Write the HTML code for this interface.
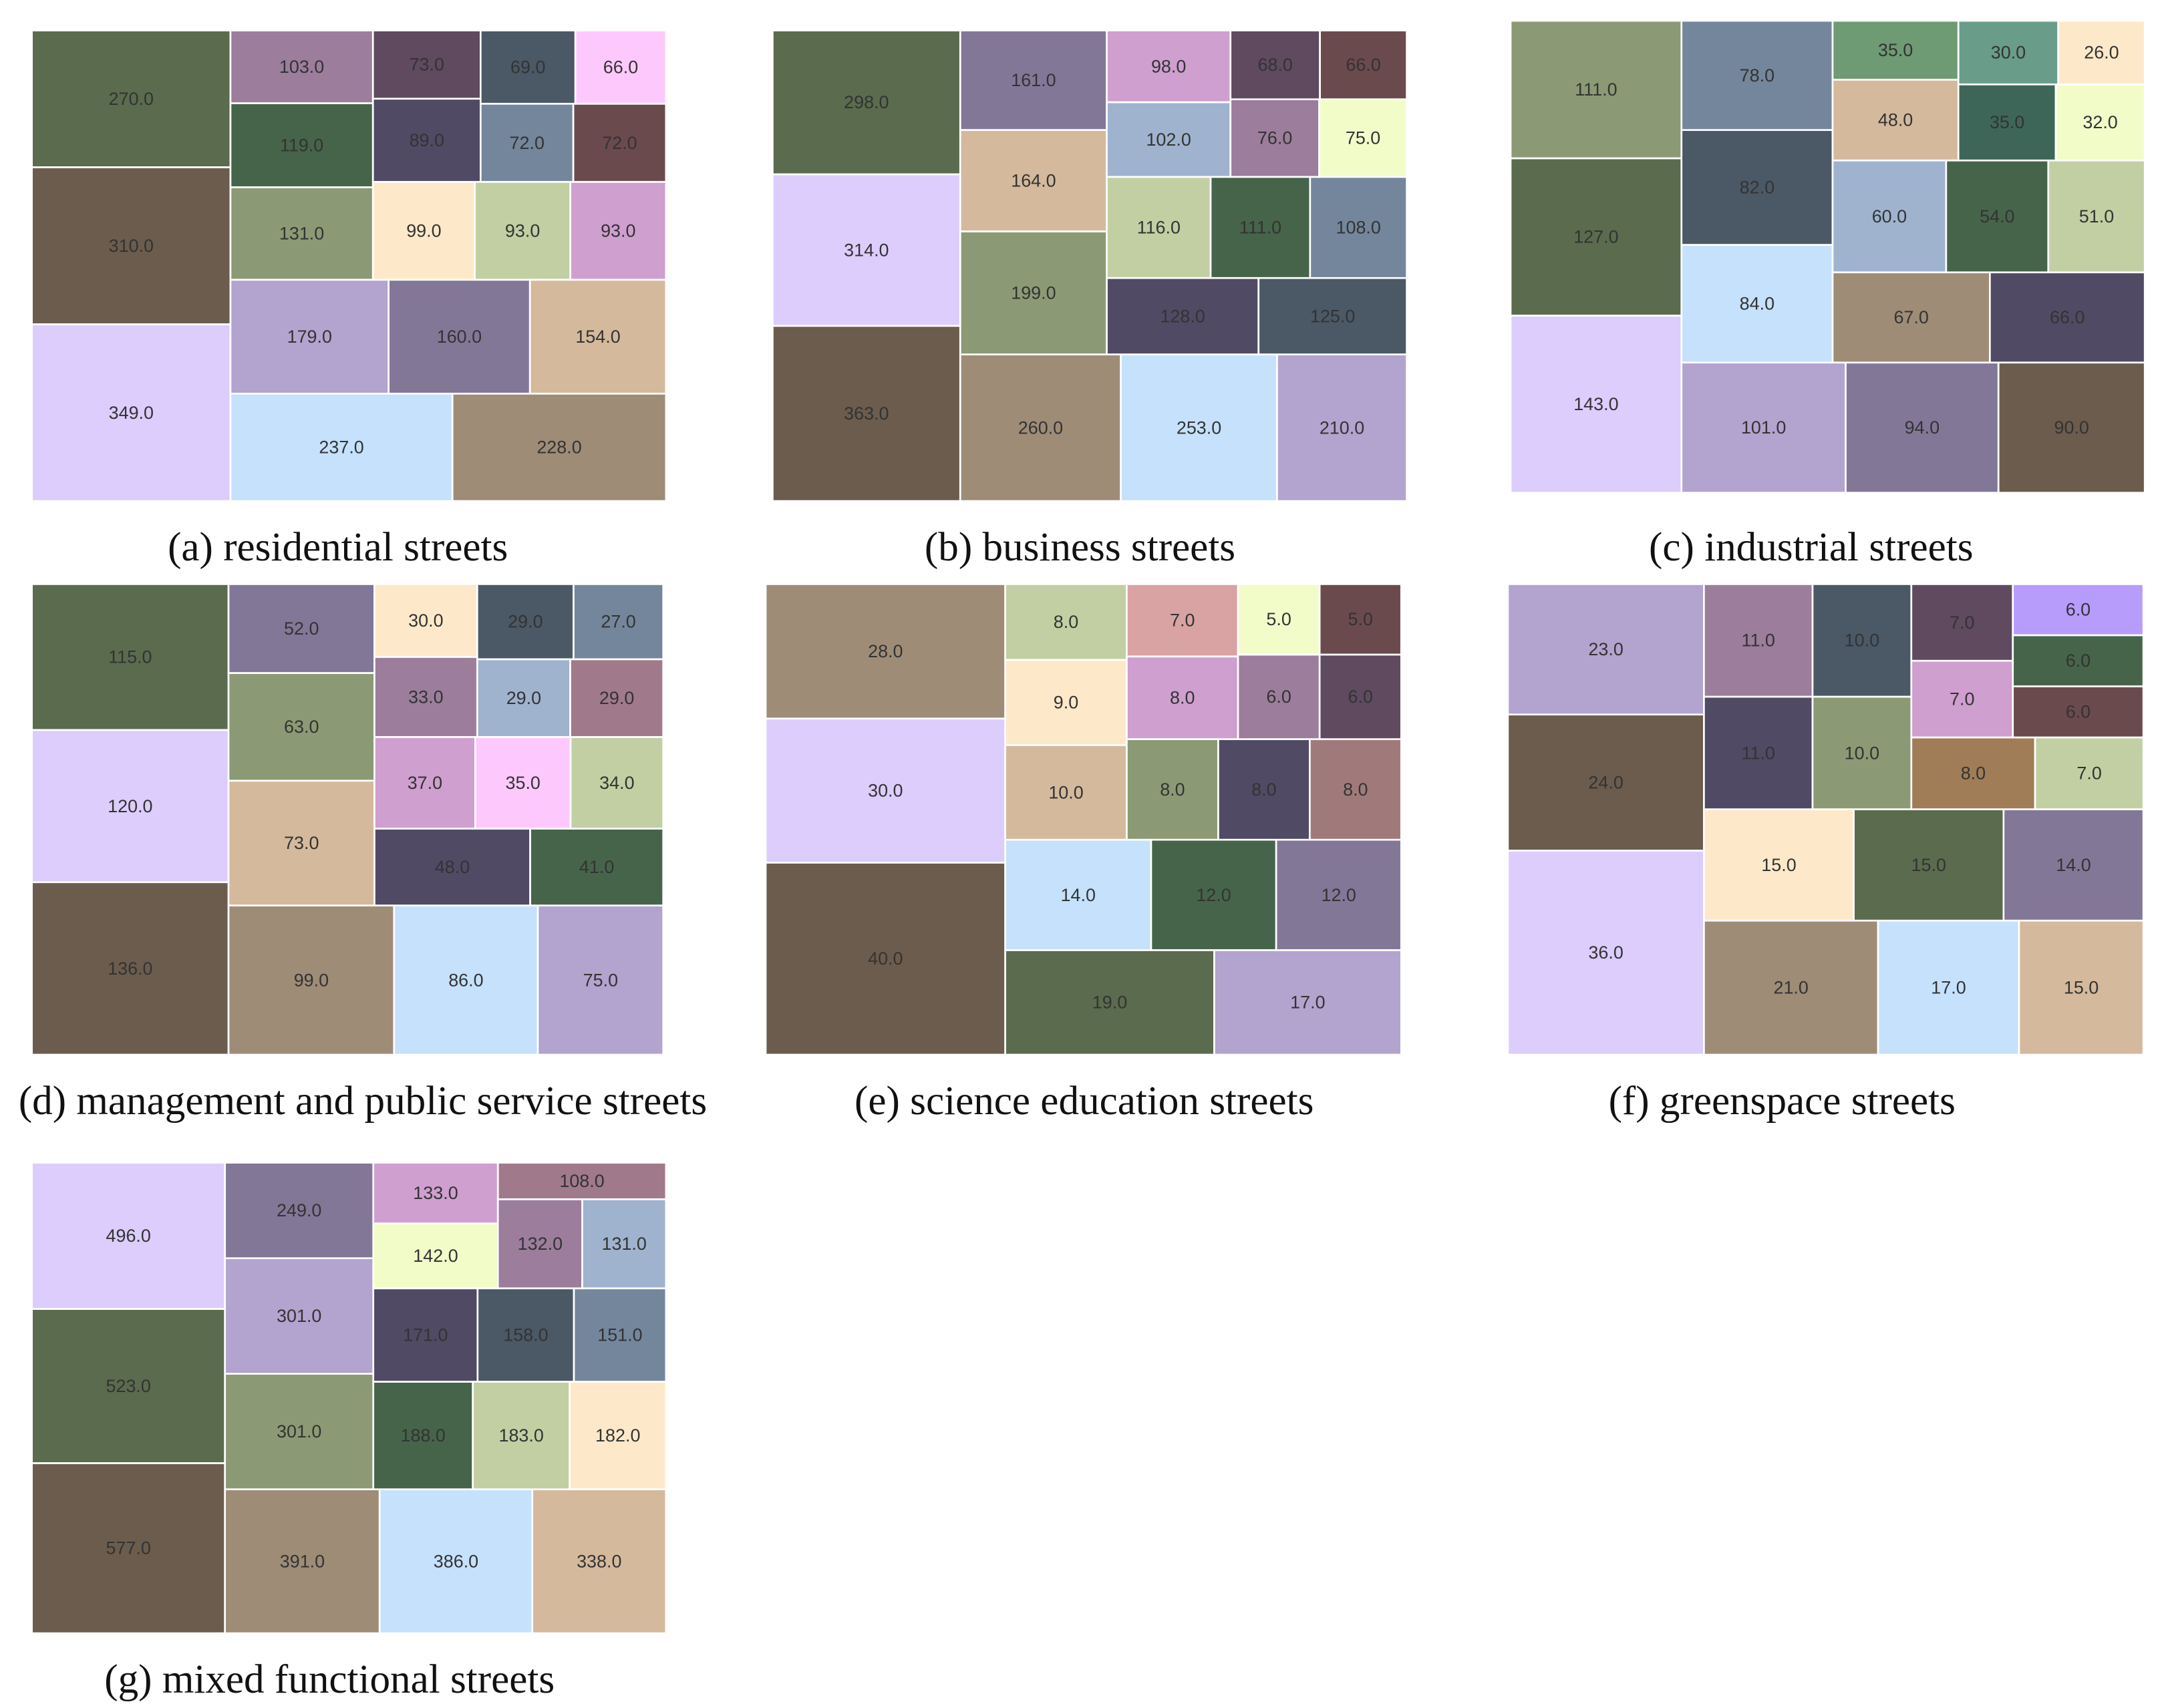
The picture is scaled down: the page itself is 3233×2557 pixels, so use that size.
<!DOCTYPE html>
<html><head><meta charset="utf-8">
<style>
html,body{margin:0;padding:0;background:#fff;}
svg{display:block;}
.lbl{font-family:"Liberation Sans",sans-serif;font-size:13px;fill:#333;text-anchor:middle;dominant-baseline:central;}
.ttl{font-family:"Liberation Serif",serif;font-size:29.5px;fill:#111;text-anchor:middle;}
</style></head>
<body>
<svg id="chart" width="3233" height="2557" viewBox="0 0 1560 1234" preserveAspectRatio="none" xmlns="http://www.w3.org/2000/svg"></svg>
<script>
const valuesA=[349,310,270,237,228,179,160,154,131,119,103,99,93,93,89,73,72,72,69,66];
const colorsA=["#dccdfc","#6b5c4d","#5a6b4e","#c5e1fc","#9e8c77","#b3a3cf","#837798","#d4b99c","#8b9a74","#46644a","#9c7d9c","#fde9c9","#c2cfa3","#cf9fcf","#504a64","#5f4a60","#74869c","#6b4a4e","#4b5866","#fdc9fd"];
const valuesB=[363,314,298,260,253,210,199,164,161,128,125,116,111,108,102,98,76,75,68,66];
const colorsB=["#6b5c4d","#dccdfc","#5a6b4e","#9e8c77","#c5e1fc","#b3a3cf","#8b9a74","#d4b99c","#837798","#504a64","#4b5866","#c2cfa3","#46644a","#74869c","#9fb3cf","#cf9fcf","#9c7d9c","#f2fcc9","#5f4a60","#6b4a4e"];
const valuesC=[143,127,111,101,94,90,84,82,78,67,66,60,54,51,48,35,35,32,30,26];
const colorsC=["#dccdfc","#5a6b4e","#8b9a74","#b3a3cf","#837798","#6b5c4d","#c5e1fc","#4b5866","#74869c","#9e8c77","#504a64","#9fb3cf","#46644a","#c2cfa3","#d4b99c","#6e9a74","#3e6658","#f2fcc9","#6a9c8a","#fde9c9"];
const valuesD=[136,120,115,99,86,75,73,63,52,48,41,37,35,34,33,30,29,29,29,27];
const colorsD=["#6b5c4d","#dccdfc","#5a6b4e","#9e8c77","#c5e1fc","#b3a3cf","#d4b99c","#8b9a74","#837798","#504a64","#46644a","#cf9fcf","#fdc9fd","#c2cfa3","#9c7d9c","#fde9c9","#9fb3cf","#a07a8a","#4b5866","#74869c"];
const valuesE=[40,30,28,19,17,14,12,12,10,9,8,8,8,8,8,7,6,6,5,5];
const colorsE=["#6b5c4d","#dccdfc","#9e8c77","#5a6b4e","#b3a3cf","#c5e1fc","#46644a","#837798","#d4b99c","#fde9c9","#c2cfa3","#8b9a74","#504a64","#a07a7a","#cf9fcf","#d9a3a3","#9c7d9c","#5f4a60","#f2fcc9","#6b4a4e"];
const valuesF=[36,24,23,21,17,15,15,15,14,11,11,10,10,8,7,7,7,6,6,6];
const colorsF=["#dccdfc","#6b5c4d","#b3a3cf","#9e8c77","#c5e1fc","#d4b99c","#fde9c9","#5a6b4e","#837798","#504a64","#9c7d9c","#8b9a74","#4b5866","#a07d56","#c2cfa3","#cf9fcf","#5f4a60","#6b4a4e","#46644a","#b89cfc"];
const valuesG=[577,523,496,391,386,338,301,301,249,188,183,182,171,158,151,142,133,132,131,108];
const colorsG=["#6b5c4d","#5a6b4e","#dccdfc","#9e8c77","#c5e1fc","#d4b99c","#8b9a74","#b3a3cf","#837798","#46644a","#c2cfa3","#fde9c9","#504a64","#4b5866","#74869c","#f2fcc9","#cf9fcf","#9c7d9c","#9fb3cf","#a07a8a"];
const titles=["(a) residential streets","(b) business streets","(c) industrial streets","(d) management and public service streets","(e) science education streets","(f) greenspace streets","(g) mixed functional streets"];

const panels=[
 {v:valuesA,c:colorsA,box:[23,22,481,362],t:[244,405],n:"residential"},
 {v:valuesB,c:colorsB,box:[558,22,1016,362],t:[780,405],n:"business"},
 {v:valuesC,c:colorsC,box:[1091,15,1549,356],t:[1308,405],n:"industrial"},
 {v:valuesD,c:colorsD,box:[23,422,479,762],t:[262,805],n:"management"},
 {v:valuesE,c:colorsE,box:[553,422,1012,762],t:[783,805],n:"science-education"},
 {v:valuesF,c:colorsF,box:[1089,422,1548,762],t:[1287,805],n:"greenspace"},
 {v:valuesG,c:colorsG,box:[23,840,481,1180],t:[238,1223],n:"mixed-functional"}
];

function layoutRow(s,x,y,dx,dy){const a=s.reduce((p,q)=>p+q,0),w=a/dy,r=[];for(const z of s){r.push({x:x,y:y,dx:w,dy:z/w});y+=z/w;}return r;}
function layoutCol(s,x,y,dx,dy){const a=s.reduce((p,q)=>p+q,0),h=a/dx,r=[];for(const z of s){r.push({x:x,y:y,dx:z/h,dy:h});x+=z/h;}return r;}
function layout(s,x,y,dx,dy){return dx>=dy?layoutRow(s,x,y,dx,dy):layoutCol(s,x,y,dx,dy);}
function leftover(s,x,y,dx,dy){const a=s.reduce((p,q)=>p+q,0);if(dx>=dy){const w=a/dy;return [x+w,y,dx-w,dy];}const h=a/dx;return [x,y+h,dx,dy-h];}
function worst(s,x,y,dx,dy){return Math.max(...layout(s,x,y,dx,dy).map(r=>Math.max(r.dx/r.dy,r.dy/r.dx)));}
function squarify(s,x,y,dx,dy){
  if(s.length===0)return [];
  if(s.length===1)return layout(s,x,y,dx,dy);
  let i=1;
  while(i<s.length&&worst(s.slice(0,i),x,y,dx,dy)>=worst(s.slice(0,i+1),x,y,dx,dy))i++;
  const cur=s.slice(0,i),rem=s.slice(i),lo=leftover(cur,x,y,dx,dy);
  return layout(cur,x,y,dx,dy).concat(squarify(rem,lo[0],lo[1],lo[2],lo[3]));
}
const NS="http://www.w3.org/2000/svg";
const svg=document.getElementById('chart');
panels.forEach((p,pi)=>{
  const g=document.createElementNS(NS,'g');
  
  
  svg.appendChild(g);
  const tot=p.v.reduce((a,b)=>a+b,0);
  const norm=p.v.map(v=>v*100*100/tot);
  const rects=squarify(norm,0,0,100,100);
  const [x0,y0,x1,y1]=p.box;
  const sx=v=>x0+v/100*(x1-x0);
  const sy=v=>y1-v/100*(y1-y0);
  rects.forEach((r,i)=>{
    const rx=sx(r.x),ry=sy(r.y+r.dy),rw=sx(r.x+r.dx)-rx,rh=sy(r.y)-ry;
    const el=document.createElementNS(NS,'rect');
    
    
    el.setAttribute('x',rx);el.setAttribute('y',ry);el.setAttribute('width',rw);el.setAttribute('height',rh);
    el.setAttribute('fill',p.c[i]);el.setAttribute('stroke','#fff');el.setAttribute('stroke-width','1.3');
    g.appendChild(el);
    const t=document.createElementNS(NS,'text');
    
    
    t.setAttribute('class','lbl');
    t.setAttribute('x',rx+rw/2);t.setAttribute('y',ry+rh/2);
    t.textContent=p.v[i].toFixed(1);
    g.appendChild(t);
  });
  const tt=document.createElementNS(NS,'text');
  
  
  tt.setAttribute('class','ttl');
  tt.setAttribute('x',p.t[0]);tt.setAttribute('y',p.t[1]);
  tt.textContent=titles[pi];
  svg.appendChild(tt);
});
</script>
</body></html>
